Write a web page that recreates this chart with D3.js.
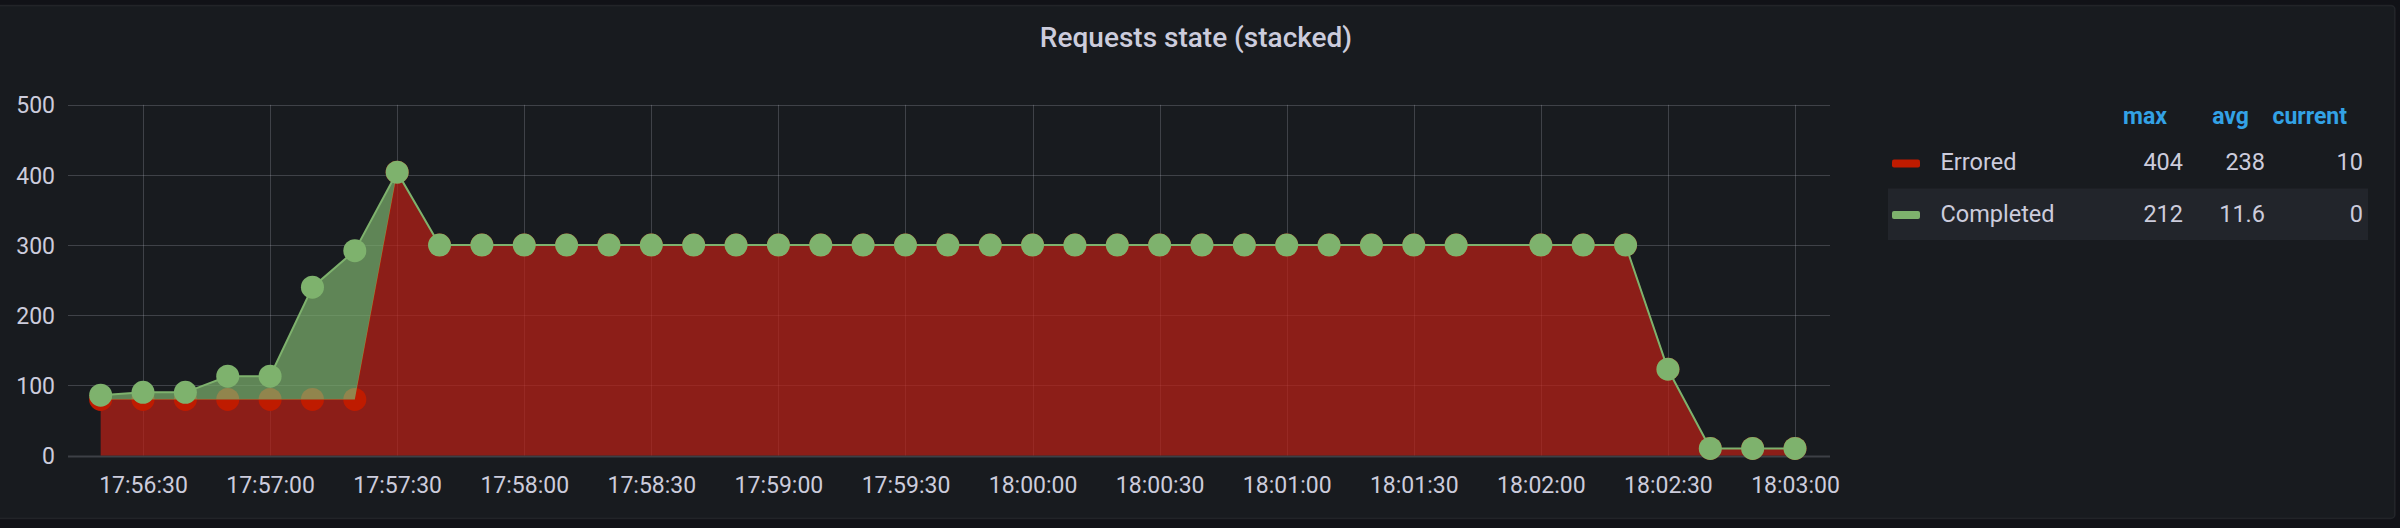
<!DOCTYPE html>
<html><head><meta charset="utf-8">
<script src="https://cdn.jsdelivr.net/npm/d3@7"></script>
<style>html,body{margin:0;padding:0;background:#111217;overflow:hidden}svg{display:block}text{font-family:Roboto,"Noto Sans",sans-serif}</style>
</head><body><svg id="c" width="2400" height="528"></svg>
<script>
const times = ["17:56:20","17:56:30","17:56:40","17:56:50","17:57:00","17:57:10","17:57:20","17:57:30","17:57:40","17:57:50",
  "17:58:00","17:58:10","17:58:20","17:58:30","17:58:40","17:58:50","17:59:00","17:59:10","17:59:20","17:59:30",
  "17:59:40","17:59:50","18:00:00","18:00:10","18:00:20","18:00:30","18:00:40","18:00:50","18:01:00","18:01:10",
  "18:01:20","18:01:30","18:01:40","18:01:50","18:02:00","18:02:10","18:02:20","18:02:30","18:02:40","18:02:50","18:03:00"];
const errored = [80,80,80,80,80,80,80,404,300,300,
  300,300,300,300,300,300,300,300,300,300,
  300,300,300,300,300,300,300,300,300,300,
  300,300,300,null,300,300,300,123,10,10,10];
const completed = [6,10,10,33,33,160,212,0,0,0,
  0,0,0,0,0,0,0,0,0,0,
  0,0,0,0,0,0,0,0,0,0,
  0,0,0,null,0,0,0,0,0,0,0];
const yTicks = [0,100,200,300,400,500];
const xTickLabels = ["17:56:30","17:57:00","17:57:30","17:58:00","17:58:30","17:59:00","17:59:30",
  "18:00:00","18:00:30","18:01:00","18:01:30","18:02:00","18:02:30","18:03:00"];
const seriesNames = ["Errored","Completed"];
const seriesColors = ["#bf1b00","#7eb26d"];
const areaColors = ["#bd1f16","#7eb26d"];
const statHeaders = ["max","avg","current"];
const title = "Requests state (stacked)";

const parse = d3.timeParse("%H:%M:%S");
const svg = d3.select("#c");
const txt = "#ccccdc";

// panel
svg.append("rect").attr("x",-4).attr("y",5.5).attr("width",2399).attr("height",513)
  .attr("rx",4).attr("fill","#181b1f").attr("stroke","rgba(204,204,220,0.08)").attr("stroke-width",1.5);

svg.append("text").attr("x",1196).attr("y",46.5).attr("text-anchor","middle")
  .attr("font-size",28).attr("font-weight",500).attr("fill",txt).text(title);

const L = 68, R = 1830;
const x = d3.scaleTime()
  .domain([new Date(+parse("17:56:12") + 290), new Date(+parse("18:03:08") + 260)])
  .range([L, R]);
const y = d3.scaleLinear().domain([0,500]).range([455.5,104.8]);

// grid
const grid = svg.append("g").attr("stroke","rgba(204,204,220,0.22)").attr("stroke-width",1);
yTicks.forEach(v => grid.append("line").attr("x1",L).attr("x2",R).attr("y1",Math.round(y(v))+0.5).attr("y2",Math.round(y(v))+0.5));
xTickLabels.forEach(s => { const xx = Math.round(x(parse(s)))+0.5;
  grid.append("line").attr("x1",xx).attr("x2",xx).attr("y1",y(500)).attr("y2",y(0)); });
// base axis line
svg.append("line").attr("x1",L).attr("x2",R).attr("y1",y(0)+1).attr("y2",y(0)+1)
  .attr("stroke","#3d4046").attr("stroke-width",2);

// axes labels
const yAxis = d3.axisLeft(y).tickValues(yTicks).tickSize(0).tickPadding(0);
const ga = svg.append("g").attr("transform","translate(55,0)").call(yAxis);
ga.select(".domain").remove();
ga.selectAll("text").attr("font-size",23).attr("fill",txt).attr("font-family","Roboto").attr("dy","0.35em");

const xAxis = d3.axisBottom(x).tickValues(xTickLabels.map(parse)).tickFormat(d3.timeFormat("%H:%M:%S")).tickSize(0).tickPadding(0);
const gx = svg.append("g").attr("transform","translate(0,493)").call(xAxis);
gx.select(".domain").remove();
gx.selectAll("text").attr("font-size",23).attr("fill",txt).attr("font-family","Roboto").attr("dy",0);

// data
const rows = times.map((t,i) => ({t: parse(t), e: errored[i], c: completed[i]}))
  .filter(d => d.e != null && d.c != null);
const stacked = d3.stack().keys(["e","c"])(rows);

const area = d3.area().x(d => x(d.data.t)).y0(d => y(d[0])).y1(d => y(d[1]));
const line = d3.line().x(d => x(d.data.t)).y(d => y(d[1]));

stacked.forEach((s, k) => {
  const col = seriesColors[k];
  const g = svg.append("g");
  g.append("path").attr("d", area(s)).attr("fill", areaColors[k]).attr("fill-opacity", 0.7);
  g.append("path").attr("d", line(s)).attr("fill","none").attr("stroke", col).attr("stroke-width", k === 0 ? 1 : 2);
  g.selectAll("circle").data(s).join("circle")
    .attr("cx", d => x(d.data.t)).attr("cy", d => y(d[1])).attr("r", 11.5).attr("fill", col);
});

// legend
const series = [errored, completed];
function fmt(v){ if (Number.isInteger(v)) return String(v); return Math.abs(v) >= 100 ? v.toFixed(0) : v.toFixed(1); }
const stats = series.map(arr => { const vals = arr.filter(v => v != null);
  return [d3.max(vals), d3.mean(vals), vals[vals.length-1]]; });
const colRight = [2183, 2265, 2363];
const lg = svg.append("g");
statHeaders.forEach((h,j) => lg.append("text").attr("x", colRight[j]-16).attr("y",123.5)
  .attr("text-anchor","end").attr("font-size",23).attr("font-weight",700).attr("fill","#33a2e5").text(h));
lg.append("rect").attr("x",1888).attr("y",188.5).attr("width",480).attr("height",51.5).attr("fill","#22252b");
const rowBase = [170, 221.5];
seriesNames.forEach((n,i) => {
  lg.append("rect").attr("x",1892).attr("y",rowBase[i]-10.5).attr("width",28).attr("height",8).attr("rx",2).attr("fill",seriesColors[i]);
  lg.append("text").attr("x",1940.5).attr("y",rowBase[i]).attr("font-size",23.5).attr("fill",txt).text(n);
  stats[i].forEach((v,j) => lg.append("text").attr("x",colRight[j]).attr("y",rowBase[i]).attr("text-anchor","end")
    .attr("font-size",23.5).attr("fill",txt).text(fmt(v)));
});
</script></body></html>
